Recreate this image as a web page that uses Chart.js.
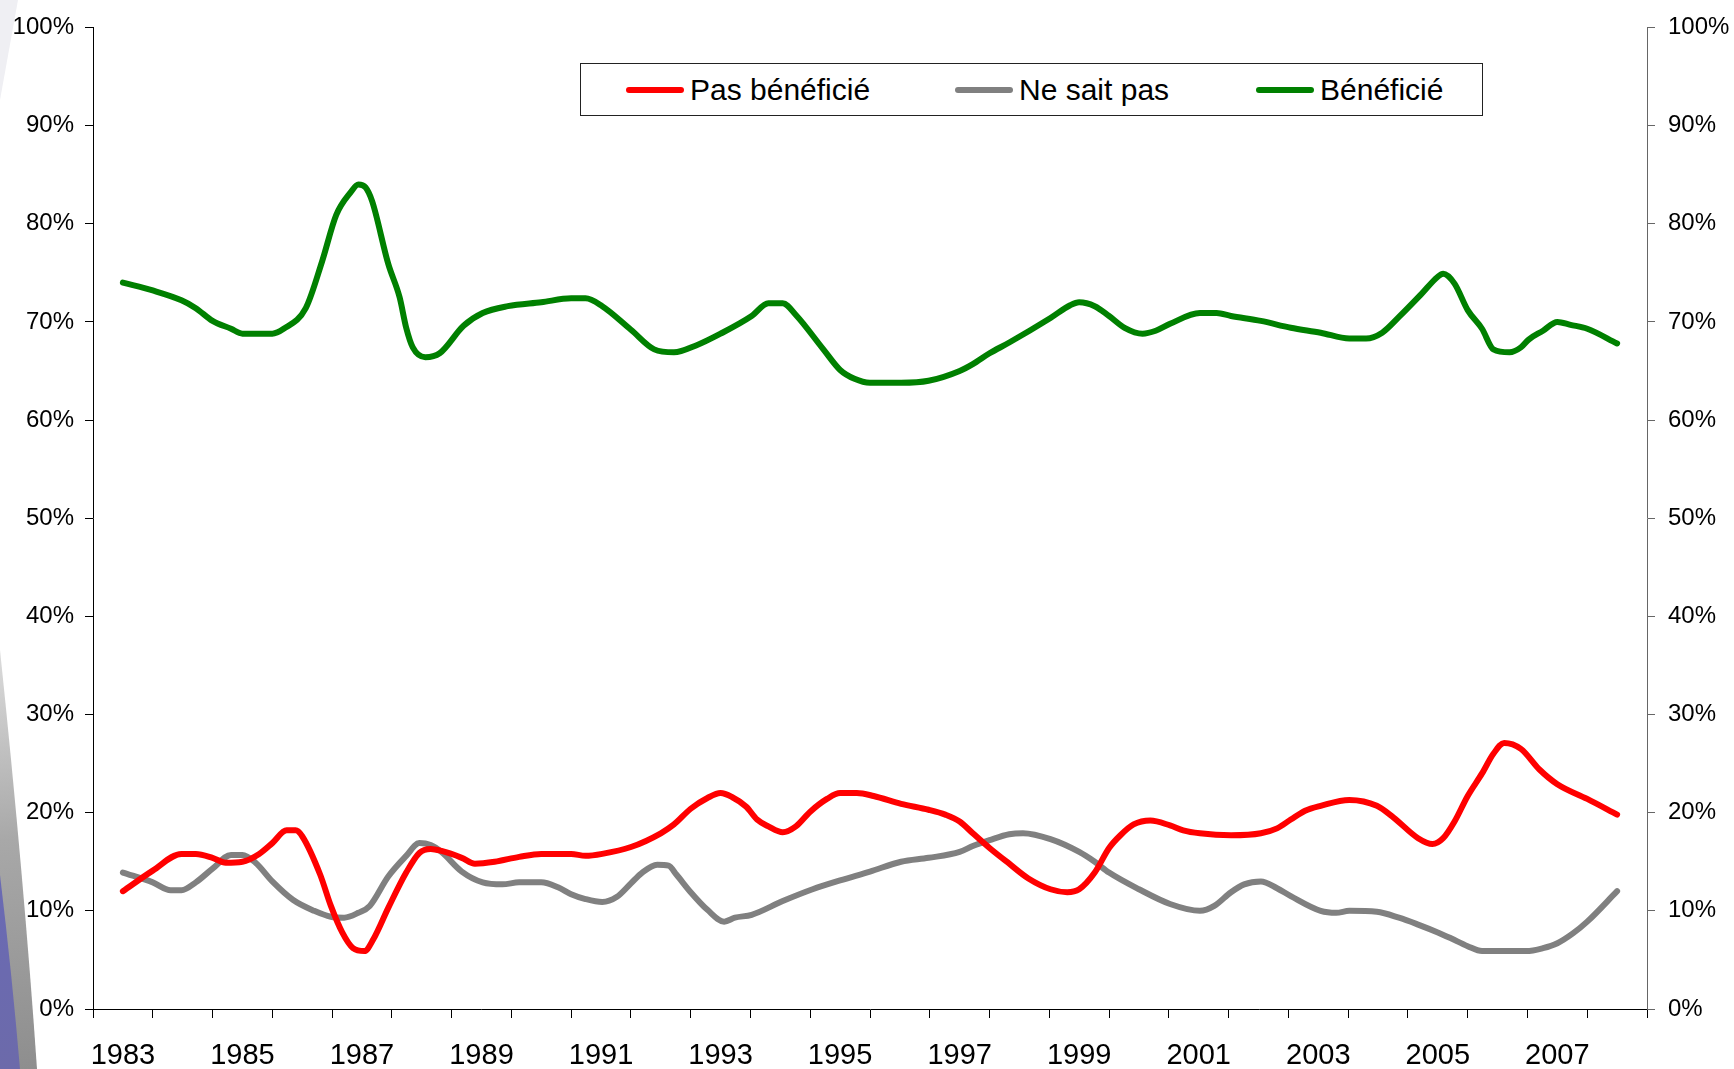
<!DOCTYPE html>
<html>
<head>
<meta charset="utf-8">
<script src="https://cdn.jsdelivr.net/npm/chart.js@4/dist/chart.umd.min.js"></script>
<style>
  html, body { margin:0; padding:0; background:#fff; }
  #wrap { position:relative; width:1734px; height:1069px; overflow:hidden; background:#fff; }
  #bg, #chart { position:absolute; left:0; top:0; }
  #legend { position:absolute; left:580px; top:63px; width:901px; height:51px; border:1px solid #222; background:#fff;
            font-family:"Liberation Sans", Arial, sans-serif; font-size:30px; color:#000; }
  .item { position:absolute; top:0; height:51px; display:flex; align-items:center; white-space:nowrap; }
  .swatch { display:inline-block; width:58px; height:6px; border-radius:3px; margin-right:6px; }
</style>
</head>
<body>
<div id="wrap">
  <canvas id="bg" width="1734" height="1069"></canvas>
  <canvas id="chart" width="1734" height="1069"></canvas>
  <div id="legend"></div>
</div>
<script>
// ---- data ----
const yearLabels = ['1983','1984','1985','1986','1987','1988','1989','1990','1991','1992','1993','1994','1995','1996','1997','1998','1999','2000','2001','2002','2003','2004','2005','2006','2007','2008'];
const seriesNames = ['Pas bénéficié', 'Ne sait pas', 'Bénéficié'];

const pasYears = [1983.00,1983.50,1983.98,1984.22,1984.50,1984.72,1985.00,1985.28,1985.50,1985.74,1985.89,1986.00,1986.30,1986.48,1986.67,1986.85,1987.04,1987.19,1987.44,1987.74,1987.96,1988.15,1988.33,1988.67,1988.89,1989.22,1989.63,1990.00,1990.50,1990.74,1991.02,1991.50,1992.00,1992.22,1992.50,1992.78,1993.00,1993.19,1993.43,1993.61,1993.80,1994.04,1994.26,1994.50,1994.78,1995.00,1995.28,1995.56,1996.02,1996.48,1996.76,1997.00,1997.22,1997.50,1997.83,1998.15,1998.52,1998.80,1999.00,1999.26,1999.50,1999.69,1999.91,2000.19,2000.52,2000.74,2001.02,2001.54,2002.04,2002.31,2002.54,2002.78,2003.04,2003.52,2003.98,2004.26,2004.67,2004.91,2005.09,2005.28,2005.50,2005.74,2005.93,2006.11,2006.39,2006.70,2007.00,2007.50,2008.00];
const pasValues = [12.0,14.1,15.8,15.8,15.4,14.9,15.0,15.8,16.9,18.2,18.2,17.6,13.7,10.5,7.8,6.2,5.9,7.1,10.3,13.9,15.9,16.3,16.1,15.4,14.8,15.0,15.5,15.8,15.8,15.6,15.8,16.5,17.9,18.8,20.4,21.5,22.0,21.6,20.6,19.3,18.6,18.0,18.6,20.1,21.4,22.0,22.0,21.7,20.9,20.3,19.8,19.1,17.9,16.4,14.8,13.3,12.2,11.9,12.2,13.9,16.4,17.7,18.8,19.2,18.7,18.2,17.9,17.7,17.9,18.4,19.3,20.2,20.7,21.3,20.7,19.5,17.4,16.8,17.4,19.1,21.7,24.0,26.0,27.1,26.5,24.4,22.9,21.4,19.8];

const nspYears = [1983.00,1983.50,1983.80,1983.98,1984.22,1984.50,1984.81,1985.00,1985.22,1985.50,1985.85,1986.20,1986.48,1986.70,1986.94,1987.13,1987.44,1987.74,1987.96,1988.15,1988.33,1988.67,1989.02,1989.35,1989.63,1990.00,1990.28,1990.50,1990.74,1991.02,1991.26,1991.50,1991.67,1991.94,1992.13,1992.26,1992.50,1992.78,1993.06,1993.24,1993.52,1994.04,1994.54,1995.00,1995.50,1996.02,1996.48,1997.00,1997.22,1997.50,1997.83,1998.06,1998.52,1999.00,1999.26,1999.50,2000.00,2000.52,2001.02,2001.26,2001.54,2001.76,2002.04,2002.31,2002.54,2003.04,2003.30,2003.52,2003.98,2004.35,2004.67,2005.00,2005.22,2005.50,2005.74,2006.48,2006.76,2007.00,2007.26,2007.50,2008.00];
const nspValues = [13.9,12.9,12.1,12.1,12.9,14.3,15.7,15.7,14.9,13.0,11.1,10.0,9.4,9.3,9.8,10.5,13.5,15.6,16.9,16.7,16.0,14.0,12.9,12.7,12.9,12.9,12.4,11.7,11.2,10.9,11.4,12.8,13.8,14.7,14.6,13.7,11.9,10.1,8.9,9.3,9.6,11.0,12.2,13.1,14.0,15.0,15.4,16.0,16.6,17.2,17.8,17.9,17.3,16.0,15.0,13.9,12.2,10.7,10.0,10.5,11.9,12.7,13.0,12.3,11.5,10.0,9.8,10.0,9.9,9.3,8.6,7.8,7.2,6.4,5.9,5.9,6.2,6.7,7.7,8.9,12.0];

const benYears = [1983.00,1983.50,1983.98,1984.22,1984.50,1984.81,1985.00,1985.50,1985.69,1986.06,1986.33,1986.57,1986.81,1986.94,1987.06,1987.17,1987.44,1987.63,1987.74,1987.85,1988.06,1988.30,1988.70,1989.02,1989.44,1990.00,1990.50,1990.74,1991.02,1991.50,1991.89,1992.22,1992.59,1993.00,1993.52,1993.80,1994.04,1994.26,1994.72,1995.00,1995.24,1995.50,1996.02,1996.48,1997.00,1997.22,1997.50,1997.83,1998.52,1998.85,1999.00,1999.26,1999.50,1999.76,2000.06,2000.28,2000.52,2001.02,2001.30,2001.54,2002.04,2002.54,2003.04,2003.52,2003.80,2004.07,2004.35,2004.72,2005.00,2005.09,2005.28,2005.50,2005.74,2005.93,2006.20,2006.39,2006.52,2006.76,2007.00,2007.22,2007.50,2008.00];
const benValues = [74.0,73.2,72.2,71.4,70.1,69.3,68.8,68.8,69.3,71.4,76.1,80.9,83.2,84.0,83.7,82.3,75.9,72.5,69.4,67.4,66.4,66.8,69.6,70.9,71.6,72.0,72.4,72.4,71.6,69.2,67.2,66.9,67.6,68.8,70.6,71.9,71.9,70.7,67.2,65.1,64.2,63.8,63.8,64.0,65.0,65.7,66.8,67.9,70.4,71.7,72.0,71.6,70.6,69.4,68.8,69.1,69.8,70.9,70.9,70.6,70.1,69.4,68.9,68.3,68.3,68.9,70.5,72.8,74.6,74.9,73.9,71.2,69.3,67.2,66.9,67.4,68.2,69.1,70.0,69.7,69.3,67.8];

const seriesColors = ['#ff0000', '#808080', '#008000'];
const percentTicks = [0,10,20,30,40,50,60,70,80,90,100];

function pts(xs, ys) { return xs.map((x, i) => ({ x: x, y: ys[i] })); }

// ---- decorative background (slide edge) ----
(function () {
  const c = document.getElementById('bg').getContext('2d');
  c.fillStyle = '#efeff3';
  c.beginPath(); c.moveTo(0, 0); c.lineTo(18, 0); c.lineTo(0, 100); c.closePath(); c.fill();
  const g = c.createLinearGradient(0, 650, 40, 1069);
  g.addColorStop(0, '#dcdcdc'); g.addColorStop(0.45, '#a8a8a8'); g.addColorStop(1, '#8e8e8e');
  c.fillStyle = g;
  c.beginPath(); c.moveTo(0, 650); c.quadraticCurveTo(24, 880, 37, 1069); c.lineTo(0, 1069); c.closePath(); c.fill();
  const b = c.createLinearGradient(0, 875, 20, 1069);
  b.addColorStop(0, '#6a6ab4'); b.addColorStop(1, '#6c6aaa');
  c.fillStyle = b;
  c.beginPath(); c.moveTo(0, 875); c.quadraticCurveTo(12, 975, 20, 1069); c.lineTo(0, 1069); c.closePath(); c.fill();
})();

const FONT = '"Liberation Sans", Arial, sans-serif';

const chart = new Chart(document.getElementById('chart'), {
  type: 'line',
  data: {
    labels: yearLabels,
    datasets: [
      { label: seriesNames[0], data: pts(pasYears, pasValues), borderColor: seriesColors[0] },
      { label: seriesNames[1], data: pts(nspYears, nspValues), borderColor: seriesColors[1] },
      { label: seriesNames[2], data: pts(benYears, benValues), borderColor: seriesColors[2] }
    ].map(d => Object.assign(d, { xAxisID: 'xd', yAxisID: 'y', borderWidth: 6, pointRadius: 0, tension: 0.35,
                                   cubicInterpolationMode: 'monotone', fill: false, borderCapStyle: 'round', borderJoinStyle: 'round' }))
  },
  options: {
    responsive: false,
    animation: false,
    devicePixelRatio: 1,
    layout: { padding: { top: 23, left: 0, right: 0, bottom: 0 } },
    plugins: { legend: { display: false }, tooltip: { enabled: false } },
    scales: {
      x: {
        type: 'category',
        position: 'bottom',
        offset: true,
        grid: { offset: true, drawOnChartArea: false, color: '#000', tickLength: 9 },
        border: { color: '#000', width: 1 },
        ticks: {
          autoSkip: false, maxRotation: 0, color: '#000', padding: 21,
          font: { family: FONT, size: 29 },
          callback: function (v, i) { return i % 2 === 0 ? this.getLabelForValue(v) : ''; }
        },
        afterFit: s => { s.height = 60; }
      },
      xd: { type: 'linear', display: false, min: 1982.5, max: 2008.5 },
      y: {
        position: 'left', min: 0, max: 100,
        afterBuildTicks: s => { s.ticks = percentTicks.map(v => ({ value: v })); },
        grid: { drawOnChartArea: false, color: '#000', tickLength: 8 },
        border: { color: '#000', width: 1 },
        ticks: { color: '#000', padding: 11, font: { family: FONT, size: 24 }, callback: v => v + '%' },
        afterFit: s => { s.width = 93; }
      },
      y2: {
        position: 'right', min: 0, max: 100,
        afterBuildTicks: s => { s.ticks = percentTicks.map(v => ({ value: v })); },
        grid: { drawOnChartArea: false, color: '#666', tickLength: 8 },
        border: { color: '#666', width: 1 },
        ticks: { color: '#000', padding: 13, font: { family: FONT, size: 24 }, callback: v => v + '%' },
        afterFit: s => { s.width = 87; }
      }
    }
  }
});

// ---- legend built from the chart datasets ----
(function () {
  const lg = document.getElementById('legend');
  const lefts = [45, 374, 675];
  chart.data.datasets.forEach((d, i) => {
    const it = document.createElement('div');
    it.className = 'item';
    it.style.left = lefts[i] + 'px';
    const sw = document.createElement('span');
    sw.className = 'swatch';
    sw.style.background = d.borderColor;
    const tx = document.createElement('span');
    tx.textContent = d.label;
    it.appendChild(sw); it.appendChild(tx);
    lg.appendChild(it);
  });
})();
</script>
</body>
</html>
